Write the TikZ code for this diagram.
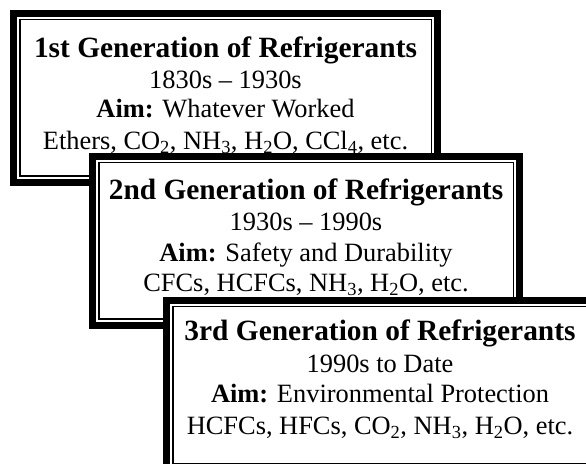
\documentclass[tikz,border=0pt]{standalone}
\usepackage{fontspec}
\setmainfont{Liberation Serif}
\newcommand{\genframe}[4]{% left, top, right, bottom in pixel coords (y down)
  \fill[white] (#1,463-#2) rectangle (#3,463-#4);
  \draw[line width=7pt] (#1+3.5,463-#2-3.5) rectangle (#3-3.5,463-#4+3.5);
  \draw[line width=1.5pt] (#1+9.75,463-#2-9.75) rectangle (#3-9.75,463-#4+9.75);}
\begin{document}
\begin{tikzpicture}[x=1pt,y=1pt,
  title/.style={anchor=base,font=\fontsize{29.4}{30}\selectfont\bfseries,inner sep=0pt},
  body/.style={anchor=base,font=\fontsize{26.4}{28}\selectfont,inner sep=0pt}]
\useasboundingbox (0,0) rectangle (586,463);
\clip (0,0) rectangle (586,463);
% box 1
\genframe{10}{10}{441}{186}
\node[title] (t1) at (225.5,463-58) {1st Generation of Refrigerants};
\node[body] (d1) at (225.5,463-89) {1830s – 1930s};
\node[body] (a1) at (225.5,463-118) {\textbf{Aim:} Whatever Worked};
\node[body] (s1) at (225.5,463-150) {Ethers, CO\textsubscript{2}, NH\textsubscript{3}, H\textsubscript{2}O, CCl\textsubscript{4}, etc.};
% box 2
\genframe{89}{153}{523}{329}
\node[title] (t2) at (306,463-200) {2nd Generation of Refrigerants};
\node[body] (d2) at (306,463-231) {1930s – 1990s};
\node[body] (a2) at (306,463-262) {\textbf{Aim:} Safety and Durability};
\node[body] (s2) at (306,463-292) {CFCs, HCFCs, NH\textsubscript{3}, H\textsubscript{2}O, etc.};
% box 3
\genframe{163}{297}{597}{473}
\node[title] (t3) at (380,463-341) {3rd Generation of Refrigerants};
\node[body] (d3) at (380,463-373) {1990s to Date};
\node[body] (a3) at (380,463-403) {\textbf{Aim:} Environmental Protection};
\node[body] (s3) at (380,463-435) {HCFCs, HFCs, CO\textsubscript{2}, NH\textsubscript{3}, H\textsubscript{2}O, etc.};
\end{tikzpicture}
\end{document}
